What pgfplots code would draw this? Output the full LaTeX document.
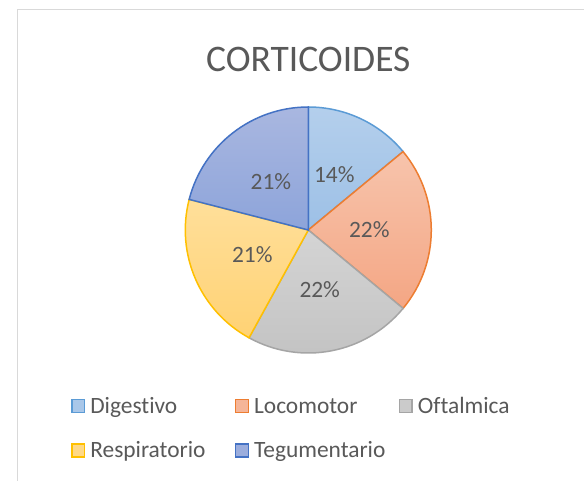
\documentclass[border=0pt]{standalone}
\usepackage{pgfplots}
\usepackage{pgfplotstable}
\pgfplotsset{compat=1.18}
\usepackage{fontspec}
\setmainfont[Ligatures=NoCommon]{Carlito}

\definecolor{txt}{HTML}{595959}
\definecolor{frame}{HTML}{D9D9D9}
% slice colours: top / bottom of gradient, border
\definecolor{tp0}{HTML}{B4CFEC}\definecolor{bt0}{HTML}{9DC0E6}\definecolor{dr0}{HTML}{5B9BD5}
\definecolor{tp1}{HTML}{F7C4AC}\definecolor{bt1}{HTML}{F4A684}\definecolor{dr1}{HTML}{ED7D31}
\definecolor{tp2}{HTML}{D4D4D4}\definecolor{bt2}{HTML}{C2C2C2}\definecolor{dr2}{HTML}{A5A5A5}
\definecolor{tp3}{HTML}{FFDF9A}\definecolor{bt3}{HTML}{FFD274}\definecolor{dr3}{HTML}{FFC000}
\definecolor{tp4}{HTML}{A9B7E0}\definecolor{bt4}{HTML}{8DA4DA}\definecolor{dr4}{HTML}{4472C4}
\colorlet{lg0}{tp0!50!bt0}\colorlet{lg1}{tp1!50!bt1}\colorlet{lg2}{tp2!50!bt2}
\colorlet{lg3}{tp3!50!bt3}\colorlet{lg4}{tp4!50!bt4}

\pgfplotstableread{
name pct
Digestivo 14
Locomotor 22
Oftalmica 22
Respiratorio 21
Tegumentario 21
}\piedata

\begin{document}
\begin{tikzpicture}
\useasboundingbox (0,0) rectangle (584bp,481bp);
\fill[white] (0,0) rectangle (584bp,481bp);
\draw[frame, line width=1.5bp] (17.5bp,0) -- (17.5bp,471.5bp) -- (584bp,471.5bp);

\node[anchor=base, text=txt, font=\fontsize{37.5bp}{45bp}\selectfont, inner sep=0pt]
  at (308.3bp,409.5bp) {CORTICOIDES};

% angles of the slices, clockwise from the top
\pgfplotstablegetrowsof{\piedata}
\pgfmathtruncatemacro\nlast{\pgfplotsretval-1}
\gdef\cum{0}
\foreach \i in {0,...,\nlast}{
  \pgfplotstablegetelem{\i}{pct}\of\piedata
  \let\p\pgfplotsretval
  \pgfmathsetmacro\s{90-3.6*\cum}
  \pgfmathsetmacro\e{90-3.6*(\cum+\p)}
  \pgfmathsetmacro\m{(\s+\e)/2}
  \expandafter\xdef\csname sA\i\endcsname{\s}
  \expandafter\xdef\csname eA\i\endcsname{\e}
  \expandafter\xdef\csname mA\i\endcsname{\m}
  \expandafter\xdef\csname pL\i\endcsname{\p}
  \pgfmathsetmacro\nc{\cum+\p}
  \xdef\cum{\nc}
}
\def\R{123}
\def\L{61}

\begin{axis}[
    at={(308.3bp,251bp)}, anchor=origin,
    x=1bp, y=1bp,
    xmin=-124, xmax=124, ymin=-124, ymax=124,
    hide axis, clip=false,
    legend columns=3,
    legend image code/.code={\draw[#1, line width=1.5bp] (0.75bp,0.75bp) rectangle (13.55bp,13.55bp);},
    legend style={
      at={(axis cs:-237.3,-166.3)}, anchor=north west,
      draw=none, fill=none, inner sep=0pt, outer sep=0pt,
      column sep=5bp, row sep=21.4bp,
      /tikz/every even column/.append style={column sep=4.5bp},
      font=\fontsize{23.4bp}{28bp}\selectfont, text=txt,
      nodes={inner sep=0pt, anchor=base west, text width=140bp, align=left,
             text height=17bp, text depth=6bp},
    },
]
\pgfplotsinvokeforeach{0,...,\nlast}{
  \draw[line width=1.5bp, draw=dr#1, top color=tp#1, bottom color=bt#1]
    (axis cs:0,0) --
    (axis cs:{\R*cos(\csname sA#1\endcsname)},{\R*sin(\csname sA#1\endcsname)})
    arc[start angle=\csname sA#1\endcsname, end angle=\csname eA#1\endcsname, radius=\R bp]
    -- cycle;
}
\pgfplotsinvokeforeach{0,...,\nlast}{
  \node[text=txt, font=\fontsize{23.4bp}{28bp}\selectfont, inner sep=0pt]
    at (axis cs:{\L*cos(\csname mA#1\endcsname)},{\L*sin(\csname mA#1\endcsname)})
    {\csname pL#1\endcsname\%};
}
\addlegendimage{draw=dr0, fill=lg0}
\addlegendimage{draw=dr1, fill=lg1}
\addlegendimage{draw=dr2, fill=lg2}
\addlegendimage{draw=dr3, fill=lg3}
\addlegendimage{draw=dr4, fill=lg4}
\legend{Digestivo, Locomotor, Oftalmica, Respiratorio, Tegumentario}
\end{axis}
\end{tikzpicture}
\end{document}
